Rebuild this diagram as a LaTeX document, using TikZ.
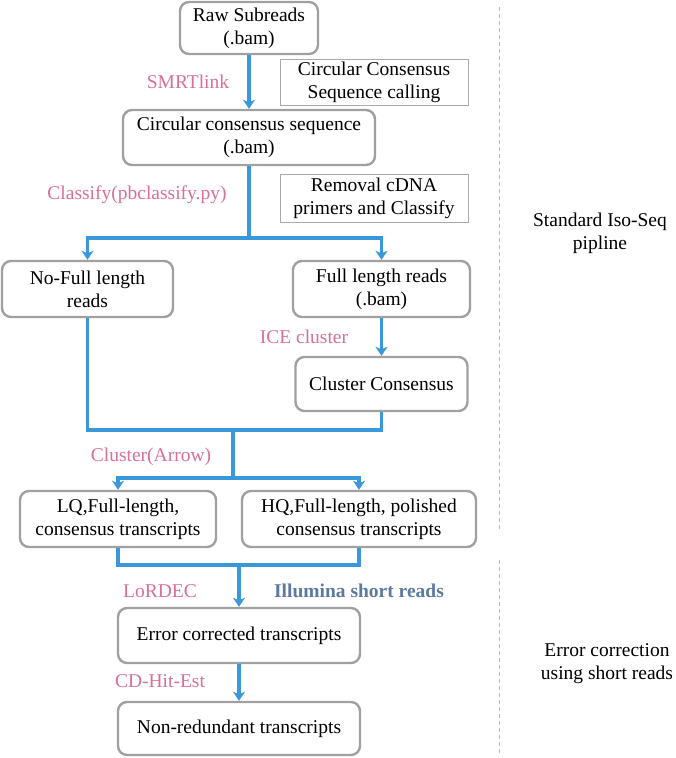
\documentclass[tikz,border=0pt]{standalone}
\usepackage{fontspec}
\setmainfont{Liberation Serif}
\usetikzlibrary{arrows.meta}
\definecolor{flowblue}{RGB}{58,152,218}
\definecolor{labpink}{RGB}{217,112,146}
\definecolor{boxgray}{RGB}{160,160,160}
\definecolor{illblue}{RGB}{92,122,160}
\tikzset{
  txt/.style={font=\fontsize{19.5}{23}\selectfont},
  box/.style={txt, draw=boxgray, line width=2.4pt, rounded corners=9pt, fill=white, align=center, inner sep=0pt},
  notebox/.style={txt, draw=boxgray!90, line width=1pt, align=center, inner sep=0pt},
  lab/.style={txt, text=labpink},
  flow/.style={flowblue, line width=3.4pt},
  flowarr/.style={flow, -{Stealth[length=9pt,width=12pt,inset=2.5pt]}}
}
\begin{document}
\begin{tikzpicture}[x=1pt,y=-1pt]
\useasboundingbox (0,0) rectangle (675,758);
% boxes
\node [box, minimum width=138pt, minimum height=52pt] (raw) at (249,28) {Raw Subreads\\(.bam)};
\node [notebox, minimum width=188pt, minimum height=46pt] (ccsnote) at (374,82) {Circular Consensus\\Sequence calling};
\node [box, minimum width=252pt, minimum height=55pt] (ccs) at (249,137.5) {Circular consensus sequence\\(.bam)};
\node [notebox, minimum width=188pt, minimum height=48pt] (primnote) at (374,198) {Removal cDNA\\primers and Classify};
\node [box, minimum width=171pt, minimum height=56pt] (nofull) at (87.5,289) {No-Full length\\reads};
\node [box, minimum width=177pt, minimum height=56pt] (full) at (381.5,289) {Full length reads\\(.bam)};
\node [box, minimum width=172pt, minimum height=54pt] (clus) at (381.5,384) {Cluster Consensus};
\node [box, minimum width=196pt, minimum height=56pt] (lq) at (118,519) {LQ,Full-length,\\consensus transcripts};
\node [box, minimum width=234pt, minimum height=56pt] (hq) at (359,519) {HQ,Full-length, polished\\consensus transcripts};
\node [box, minimum width=242pt, minimum height=55pt] (err) at (239,635.5) {Error corrected transcripts};
\node [box, minimum width=242pt, minimum height=53pt] (nonred) at (239,728.5) {Non-redundant transcripts};
% labels
\node [lab] (smrt) at (188,82) {SMRTlink};
\node [lab] (classify) at (137,195) {Classify(pbclassify.py)};
\node [lab] (ice) at (304,337) {ICE cluster};
\node [lab] (arrow) at (151,457) {Cluster(Arrow)};
\node [lab] (lordec) at (160,591) {LoRDEC};
\node [txt, text=illblue, font=\fontsize{19.5}{23}\selectfont\bfseries] (illumina) at (359,591) {Illumina short reads};
\node [lab] (cdhit) at (160,681) {CD-Hit-Est};
\node [txt, align=center] (iso) at (600,233) {Standard Iso-Seq\\pipline};
\node [txt, align=center] (errcor) at (607,664) {Error correction\\using short reads};
% branch points
\coordinate (split1) at (249,238);
\coordinate (merge1) at (233,430);
\coordinate (split2) at (233,478);
\coordinate (merge2) at (239,565);
% connectors
\draw [flowarr] (raw) -- (ccs);
\draw [flow] (ccs) -- (split1);
\draw [flowarr] (split1) -| (nofull);
\draw [flowarr] (split1) -| (full);
\draw [flowarr] (full) -- (clus);
\draw [flow] (nofull) |- (merge1) -| (clus);
\draw [flow] (merge1) -- (split2);
\draw [flowarr] (split2) -| (lq);
\draw [flowarr] (split2) -| (hq);
\draw [flow] (lq) |- (merge2) -| (hq);
\draw [flowarr] (merge2) -- (err);
\draw [flowarr] (err) -- (nonred);
% separators
\draw [boxgray!70, line width=0.8pt, dash pattern=on 4pt off 3pt] (499,7) -- (499,532);
\draw [boxgray!70, line width=0.8pt, dash pattern=on 4pt off 3pt] (499,560) -- (499,755);
\end{tikzpicture}
\end{document}
